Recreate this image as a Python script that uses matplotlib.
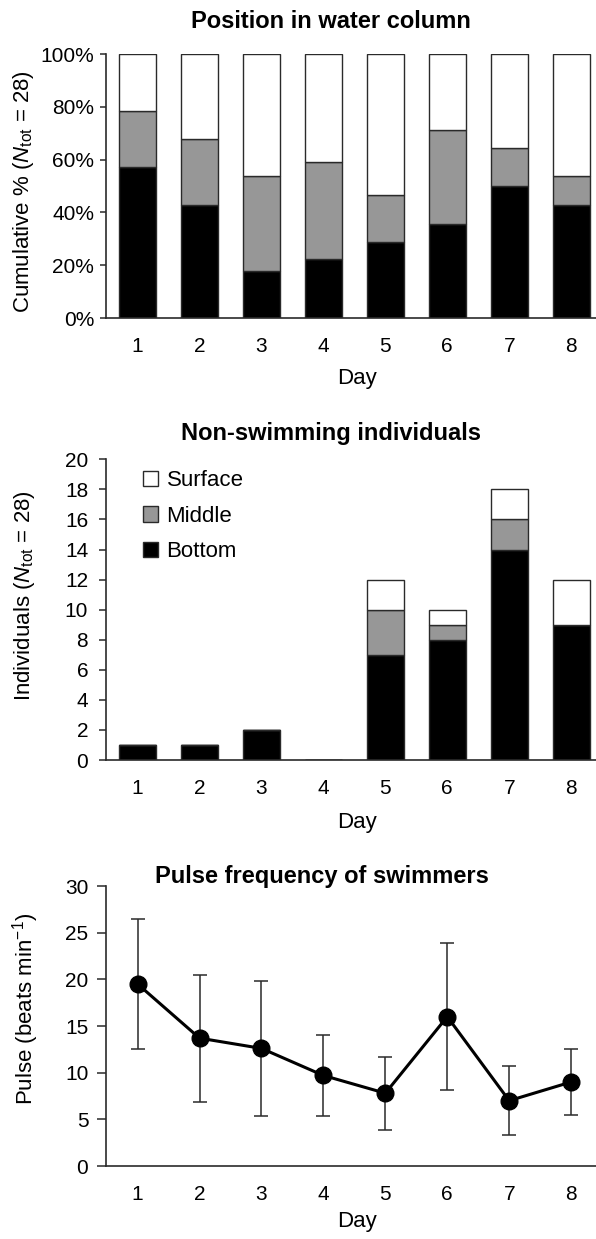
import matplotlib
matplotlib.use("Agg")
import matplotlib.pyplot as plt
from matplotlib.patches import Patch
from matplotlib.ticker import PercentFormatter, MultipleLocator

plt.rcParams['font.family'] = ['Liberation Sans', 'DejaVu Sans']
plt.rcParams['mathtext.fontset'] = 'custom'
plt.rcParams['mathtext.rm'] = 'Liberation Sans'
plt.rcParams['mathtext.it'] = 'Liberation Sans:italic'
plt.rcParams['mathtext.bf'] = 'Liberation Sans:bold'

# ---- data ----
days = [1, 2, 3, 4, 5, 6, 7, 8]
day_labels = ['1', '2', '3', '4', '5', '6', '7', '8']

pos_bottom_pct = [57.1, 42.9, 17.9, 22.2, 28.6, 35.7, 50.0, 42.9]
pos_middle_pct = [21.4, 25.0, 35.7, 37.0, 17.9, 35.7, 14.3, 10.7]
pos_surface_pct = [21.5, 32.1, 46.4, 40.8, 53.5, 28.6, 35.7, 46.4]

ns_bottom = [1, 1, 2, 0, 7, 8, 14, 9]
ns_middle = [0, 0, 0, 0, 3, 1, 2, 0]
ns_surface = [0, 0, 0, 0, 2, 1, 2, 3]

pulse_mean = [19.5, 13.7, 12.6, 9.7, 7.8, 16.0, 7.0, 9.0]
pulse_err = [7.0, 6.8, 7.2, 4.3, 3.9, 7.9, 3.7, 3.5]

GRAY = '#979797'
SPINE = '#2a2a2a'
FS = 15      # tick labels
LFS = 16     # axis labels / legend
TFS = 17     # titles

W, H = 596, 1239
fig = plt.figure(figsize=(W / 100, H / 100), dpi=100)

def axes_px(left, top, right, bottom):
    return fig.add_axes([left / W, 1 - bottom / H, (right - left) / W, (bottom - top) / H])

def style(ax, tlen, tpad):
    for s in ['top', 'right']:
        ax.spines[s].set_visible(False)
    for s in ['left', 'bottom']:
        ax.spines[s].set_color(SPINE)
        ax.spines[s].set_linewidth(1.2)
    ax.tick_params(axis='y', direction='out', length=tlen, width=1.1, color=SPINE,
                   labelsize=FS, pad=tpad)
    ax.tick_params(axis='x', length=0, labelsize=FS, pad=14)
    ax.set_xticks(days)
    ax.set_xticklabels(day_labels)
    ax.set_xlim(0.49, 8.45)

# ---- top: position in water column ----
ax1 = axes_px(106, 54, 599, 318)
b1 = pos_bottom_pct
b2 = [a + b for a, b in zip(pos_bottom_pct, pos_middle_pct)]
ax1.bar(days, pos_bottom_pct, width=0.6, color='black', edgecolor=SPINE, linewidth=1)
ax1.bar(days, pos_middle_pct, width=0.6, bottom=b1, color=GRAY, edgecolor=SPINE, linewidth=1)
ax1.bar(days, pos_surface_pct, width=0.6, bottom=b2, color='white', edgecolor=SPINE, linewidth=1)
ax1.set_ylim(0, 100)
ax1.yaxis.set_major_locator(MultipleLocator(20))
ax1.yaxis.set_major_formatter(PercentFormatter(decimals=0))
style(ax1, 4.3, 4.3)
ax1.set_ylabel(r'Cumulative % ($\mathit{N}_{\mathrm{tot}}$ = 28)', fontsize=LFS)
ax1.yaxis.set_label_coords((36 - 106) / 493, 0.48)

# ---- middle: non-swimming individuals ----
ax2 = axes_px(106, 459.3, 599, 760)
m1 = ns_bottom
m2 = [a + b for a, b in zip(ns_bottom, ns_middle)]
ax2.bar(days, ns_bottom, width=0.6, color='black', edgecolor=SPINE, linewidth=1)
ax2.bar(days, ns_middle, width=0.6, bottom=m1, color=GRAY, edgecolor=SPINE, linewidth=1)
ax2.bar(days, ns_surface, width=0.6, bottom=m2, color='white', edgecolor=SPINE, linewidth=1)
ax2.set_ylim(0, 20)
ax2.yaxis.set_major_locator(MultipleLocator(2))
style(ax2, 5, 7.8)
ax2.set_ylabel(r'Individuals ($\mathit{N}_{\mathrm{tot}}$ = 28)', fontsize=LFS)
ax2.yaxis.set_label_coords((37 - 106) / 493, 0.546)
handles = [Patch(facecolor='white', edgecolor=SPINE, label='Surface'),
           Patch(facecolor=GRAY, edgecolor=SPINE, label='Middle'),
           Patch(facecolor='black', edgecolor=SPINE, label='Bottom')]
ax2.legend(handles=handles, loc='upper left',
           bbox_to_anchor=((142.5 - 106) / 493, (760 - 470) / 300.7),
           frameon=False, fontsize=LFS, handlelength=0.68, handleheight=0.68,
           handletextpad=0.4, labelspacing=0.66, borderpad=0, borderaxespad=0)

# ---- bottom: pulse frequency ----
ax3 = axes_px(106, 886, 599, 1166)
ax3.errorbar(days, pulse_mean, yerr=pulse_err, color='black', ecolor=SPINE,
             elinewidth=1.1, capsize=5, capthick=1.1, marker='o', markersize=12,
             linewidth=2.2, zorder=3)
ax3.set_ylim(0, 30)
ax3.yaxis.set_major_locator(MultipleLocator(5))
style(ax3, 6.7, 6)
ax3.set_ylabel(r'Pulse (beats min$^{-1}$)', fontsize=LFS)
ax3.yaxis.set_label_coords((41 - 106) / 493, 0.56)

# ---- titles and x labels ----
fig.text(331 / W, 1 - 22 / H, 'Position in water column', ha='center', va='center',
         fontsize=TFS, fontweight='bold')
fig.text(331 / W, 1 - 433.5 / H, 'Non-swimming individuals', ha='center', va='center',
         fontsize=TFS, fontweight='bold')
fig.text(322 / W, 1 - 877 / H, 'Pulse frequency of swimmers', ha='center', va='center',
         fontsize=TFS, fontweight='bold')
for yc in (378.5, 822.5, 1221):
    fig.text(356.7 / W, 1 - yc / H, 'Day', ha='center', va='center', fontsize=LFS)

fig.savefig('out.png', dpi=100)
